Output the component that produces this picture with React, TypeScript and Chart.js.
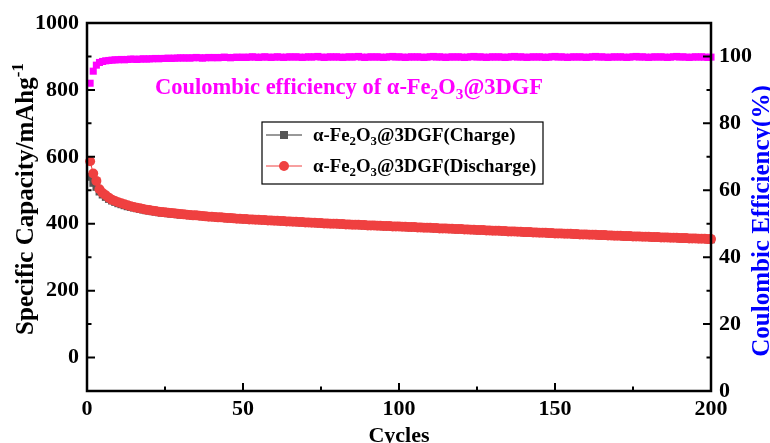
import React, { useEffect, useRef } from "react";
import { Chart, registerables } from "chart.js";
Chart.register(...registerables);

const cycles: number[] = Array.from({ length: 200 }, (_, i) => i + 1);

const dischargeCapacity: number[] = [
  587, 550, 528, 503, 492, 485, 478, 472, 468, 464,
  461, 458, 455, 452, 450, 448, 446, 444, 442, 441,
  439, 438, 436, 435, 434, 433, 432, 431, 430, 429,
  428, 427, 426, 425, 425, 424, 423, 422, 421, 421,
  420, 419, 419, 418, 417, 417, 416, 415, 415, 414,
  414, 413, 413, 412, 412, 411, 411, 410, 410, 409,
  409, 408, 408, 407, 407, 406, 406, 405, 405, 404,
  404, 403, 403, 402, 402, 401, 401, 400, 400, 400,
  399, 399, 398, 398, 397, 397, 397, 396, 396, 395,
  395, 395, 394, 394, 393, 393, 393, 392, 392, 392,
  391, 391, 390, 390, 390, 389, 389, 388, 388, 388,
  387, 387, 386, 386, 386, 385, 385, 384, 384, 384,
  383, 383, 382, 382, 381, 381, 381, 380, 380, 379,
  379, 379, 378, 378, 377, 377, 377, 376, 376, 375,
  375, 375, 374, 374, 373, 373, 373, 372, 372, 371,
  371, 371, 370, 370, 370, 369, 369, 368, 368, 368,
  367, 367, 367, 366, 366, 366, 365, 365, 364, 364,
  364, 363, 363, 363, 362, 362, 362, 361, 361, 361,
  360, 360, 360, 359, 359, 359, 358, 358, 358, 357,
  357, 357, 356, 356, 356, 355, 355, 355, 354, 354,
];

const chargeCapacity: number[] = [
  540, 522, 510, 496, 487, 480, 474, 469, 465, 461,
  458, 455, 452, 450, 448, 446, 444, 442, 440, 439,
  437, 436, 434, 433, 432, 431, 430, 429, 428, 427,
  427, 426, 425, 424, 424, 423, 422, 421, 420, 420,
  419, 418, 418, 417, 416, 416, 415, 414, 414, 413,
  413, 412, 412, 411, 411, 410, 410, 409, 409, 408,
  408, 407, 407, 406, 406, 405, 405, 404, 404, 403,
  403, 402, 402, 401, 401, 400, 400, 399, 399, 399,
  398, 398, 397, 397, 396, 396, 396, 395, 395, 394,
  394, 394, 393, 393, 392, 392, 392, 391, 391, 391,
  390, 390, 389, 389, 389, 388, 388, 387, 387, 387,
  386, 386, 385, 385, 385, 384, 384, 383, 383, 383,
  382, 382, 381, 381, 380, 380, 380, 379, 379, 378,
  378, 378, 377, 377, 376, 376, 376, 375, 375, 374,
  374, 374, 373, 373, 372, 372, 372, 371, 371, 370,
  370, 370, 369, 369, 369, 368, 368, 367, 367, 367,
  366, 366, 366, 365, 365, 365, 364, 364, 363, 363,
  363, 362, 362, 362, 361, 361, 361, 360, 360, 360,
  359, 359, 359, 358, 358, 358, 357, 357, 357, 356,
  356, 356, 355, 355, 355, 354, 354, 354, 353, 353,
];

const coulombicEfficiency: number[] = [
  92.0, 95.6, 97.4, 98.2, 98.5, 98.7, 98.8, 98.9, 99.0, 99.0,
  99.1, 99.0, 99.1, 99.2, 99.2, 99.1, 99.2, 99.3, 99.2, 99.3,
  99.3, 99.4, 99.3, 99.4, 99.4, 99.5, 99.4, 99.5, 99.5, 99.6,
  99.5, 99.6, 99.5, 99.6, 99.7, 99.6, 99.5, 99.6, 99.7, 99.6,
  99.7, 99.6, 99.7, 99.8, 99.7, 99.6, 99.7, 99.8, 99.7, 99.8,
  99.7, 99.8, 99.9, 99.8, 99.7, 99.8, 99.9, 99.8, 99.7, 99.8,
  99.9, 99.8, 99.7, 99.8, 99.9, 99.8, 99.9, 99.8, 99.7, 99.8,
  99.9, 99.8, 99.9, 100.0, 99.8, 99.7, 99.8, 99.9, 99.8, 99.9,
  99.8, 99.7, 99.8, 99.9, 99.8, 99.9, 100.0, 99.8, 99.7, 99.8,
  99.9, 99.8, 99.9, 99.8, 99.7, 99.8, 99.9, 100.0, 99.8, 99.9,
  99.8, 99.7, 99.8, 99.9, 99.8, 99.9, 99.8, 99.7, 99.8, 99.9,
  100.0, 99.8, 99.9, 99.8, 99.7, 99.8, 99.9, 99.8, 99.9, 99.8,
  99.7, 99.8, 99.9, 100.0, 99.8, 99.9, 99.8, 99.7, 99.8, 99.9,
  99.8, 99.9, 99.8, 99.7, 99.8, 99.9, 100.0, 99.8, 99.9, 99.8,
  99.7, 99.8, 99.9, 99.8, 99.9, 99.8, 99.7, 99.8, 99.9, 100.0,
  99.8, 99.9, 99.8, 99.7, 99.8, 99.9, 99.8, 99.9, 99.8, 99.7,
  99.8, 99.9, 100.0, 99.8, 99.9, 99.8, 99.7, 99.8, 99.9, 99.8,
  99.9, 99.8, 99.7, 99.8, 99.9, 100.0, 99.8, 99.9, 99.8, 99.7,
  99.8, 99.9, 99.8, 99.9, 99.8, 99.7, 99.8, 99.9, 100.0, 99.8,
  99.9, 99.8, 99.7, 99.8, 99.9, 99.8, 99.9, 99.8, 99.7, 99.8,
];

const xTicks: number[] = [0, 50, 100, 150, 200];
const xMinorTicks: number[] = [25, 75, 125, 175];
const yTicks: number[] = [0, 200, 400, 600, 800, 1000];
const yMinorTicks: number[] = [-100, 100, 300, 500, 700, 900];
const y1Ticks: number[] = [0, 20, 40, 60, 80, 100];
const y1MinorTicks: number[] = [10, 30, 50, 70, 90];

const FONT = "'Liberation Serif', 'Times New Roman', serif";
const RED = "#ef4040";
const GRAY = "#555555";
const MAGENTA = "#ff00ff";

type Part = { t: string; sub?: boolean; sup?: boolean };

function richWidth(ctx: CanvasRenderingContext2D, parts: Part[], size: number) {
  let w = 0;
  for (const p of parts) {
    const s = p.sub || p.sup ? size * 0.68 : size;
    ctx.font = `bold ${s}px ${FONT}`;
    w += ctx.measureText(p.t).width;
  }
  return w;
}

function drawRich(ctx: CanvasRenderingContext2D, parts: Part[], x: number, y: number, size: number) {
  let cx = x;
  ctx.textBaseline = "alphabetic";
  ctx.textAlign = "left";
  for (const p of parts) {
    const s = p.sub || p.sup ? size * 0.68 : size;
    ctx.font = `bold ${s}px ${FONT}`;
    const dy = p.sub ? size * 0.22 : p.sup ? -size * 0.42 : 0;
    ctx.fillText(p.t, cx, y + dy);
    cx += ctx.measureText(p.t).width;
  }
  return cx - x;
}

const fe2o3 = (suffix: string): Part[] => [
  { t: "α-Fe" },
  { t: "2", sub: true },
  { t: "O" },
  { t: "3", sub: true },
  { t: suffix },
];

const decorPlugin = {
  id: "decor",
  afterDraw(chart: any) {
    const ctx: CanvasRenderingContext2D = chart.ctx;
    const { left, right, top, bottom } = chart.chartArea;
    const sx = chart.scales.x;
    const sy = chart.scales.y;
    const sy1 = chart.scales.y1;
    ctx.save();
    ctx.strokeStyle = "#000";
    ctx.lineWidth = 2.5;
    ctx.strokeRect(left, top, right - left, bottom - top);
    ctx.lineWidth = 2;
    const major = 8;
    const minor = 4.5;
    ctx.beginPath();
    for (const v of xTicks) {
      const px = sx.getPixelForValue(v);
      ctx.moveTo(px, bottom);
      ctx.lineTo(px, bottom - major);
    }
    for (const v of xMinorTicks) {
      const px = sx.getPixelForValue(v);
      ctx.moveTo(px, bottom);
      ctx.lineTo(px, bottom - minor);
    }
    for (const v of yTicks) {
      const py = sy.getPixelForValue(v);
      ctx.moveTo(left, py);
      ctx.lineTo(left + major, py);
    }
    for (const v of yMinorTicks) {
      const py = sy.getPixelForValue(v);
      ctx.moveTo(left, py);
      ctx.lineTo(left + minor, py);
    }
    for (const v of y1Ticks) {
      const py = sy1.getPixelForValue(v);
      ctx.moveTo(right, py);
      ctx.lineTo(right - major, py);
    }
    for (const v of y1MinorTicks) {
      const py = sy1.getPixelForValue(v);
      ctx.moveTo(right, py);
      ctx.lineTo(right - minor, py);
    }
    ctx.stroke();

    // Left axis title
    ctx.fillStyle = "#000";
    const lt: Part[] = [{ t: "Specific Capacity/mAhg" }, { t: "-1", sup: true }];
    const ltw = richWidth(ctx, lt, 25);
    ctx.save();
    ctx.translate(33, 199);
    ctx.rotate(-Math.PI / 2);
    drawRich(ctx, lt, -ltw / 2, 0, 25);
    ctx.restore();

    // Right axis title
    ctx.fillStyle = "#0000ff";
    ctx.font = `bold 25px ${FONT}`;
    ctx.save();
    ctx.translate(769, 221);
    ctx.rotate(-Math.PI / 2);
    ctx.textAlign = "center";
    ctx.textBaseline = "alphabetic";
    ctx.fillText("Coulombic Efficiency(%)", 0, 0);
    ctx.restore();

    // X title
    ctx.fillStyle = "#000";
    ctx.font = `bold 22px ${FONT}`;
    ctx.textAlign = "center";
    ctx.textBaseline = "alphabetic";
    ctx.fillText("Cycles", 399, 442);

    // Annotation
    ctx.fillStyle = MAGENTA;
    drawRich(ctx, [{ t: "Coulombic efficiency of " }, ...fe2o3("@3DGF")], 155, 94, 22.5);

    // Legend
    const lx = 262, ly = 122, lw = 281, lh = 62;
    ctx.fillStyle = "#fff";
    ctx.fillRect(lx, ly, lw, lh);
    ctx.strokeStyle = "#000";
    ctx.lineWidth = 1.2;
    ctx.strokeRect(lx, ly, lw, lh);
    const rows = [
      { y: 135, color: "#333", mcolor: GRAY, square: true, label: "(Charge)" },
      { y: 166, color: RED, mcolor: RED, square: false, label: "(Discharge)" },
    ];
    for (const r of rows) {
      ctx.strokeStyle = r.color;
      ctx.lineWidth = 1;
      ctx.beginPath();
      ctx.moveTo(266, r.y);
      ctx.lineTo(302, r.y);
      ctx.stroke();
      ctx.fillStyle = r.mcolor;
      if (r.square) {
        ctx.fillRect(280, r.y - 4, 8, 8);
      } else {
        ctx.beginPath();
        ctx.arc(284, r.y, 5, 0, Math.PI * 2);
        ctx.fill();
      }
      ctx.fillStyle = "#000";
      drawRich(ctx, fe2o3("@3DGF" + r.label), 313, r.y + 6, 18.8);
    }
    ctx.restore();
  },
};

const tickFont = { family: FONT, size: 22, weight: "bold" };

export default function App() {
  const ref = useRef<HTMLCanvasElement | null>(null);
  useEffect(() => {
    document.body.style.margin = "0";
    const canvas = ref.current!;
    const chart = new Chart(canvas, {
      type: "line",
      data: {
        labels: cycles,
        datasets: [
          {
            label: "Discharge",
            data: cycles.map((c, i) => ({ x: c, y: dischargeCapacity[i] })),
            borderColor: RED,
            backgroundColor: RED,
            borderWidth: 1,
            pointStyle: "circle",
            pointRadius: 5,
            pointBorderWidth: 0,
            yAxisID: "y",
            order: 0,
            clip: false,
          },
          {
            label: "Charge",
            data: cycles.map((c, i) => ({ x: c, y: chargeCapacity[i] })),
            borderColor: "#333",
            backgroundColor: GRAY,
            borderWidth: 1,
            pointStyle: "rect",
            pointRadius: 5.5,
            pointBorderWidth: 0,
            yAxisID: "y",
            order: 1,
            clip: false,
          },
          {
            label: "CE",
            data: cycles.map((c, i) => ({ x: c, y: coulombicEfficiency[i] })),
            borderColor: MAGENTA,
            backgroundColor: MAGENTA,
            showLine: false,
            pointStyle: "rect",
            pointRadius: 5,
            pointBorderWidth: 0,
            yAxisID: "y1",
            order: 2,
            clip: false,
          },
        ],
      } as any,
      options: {
        animation: false,
        responsive: false,
        maintainAspectRatio: false,
        layout: { padding: { top: 23, left: 0, right: 0, bottom: 0 } },
        plugins: { legend: { display: false }, tooltip: { enabled: false } },
        scales: {
          x: {
            type: "linear",
            min: 0,
            max: 200,
            grid: { display: false, drawTicks: false },
            border: { display: false },
            afterBuildTicks: (s: any) => { s.ticks = xTicks.map((v) => ({ value: v })); },
            afterFit: (s: any) => { s.height = 52; },
            ticks: { color: "#000", font: tickFont, padding: 5, maxRotation: 0, callback: (v: any) => String(v) },
          },
          y: {
            type: "linear",
            position: "left",
            min: -100,
            max: 1000,
            grid: { display: false, drawTicks: false },
            border: { display: false },
            afterBuildTicks: (s: any) => { s.ticks = yTicks.map((v) => ({ value: v })); },
            afterFit: (s: any) => { s.width = 87; },
            ticks: { color: "#000", font: tickFont, padding: 8, callback: (v: any) => String(v) },
          },
          y1: {
            type: "linear",
            position: "right",
            min: 0,
            max: 110,
            grid: { display: false, drawTicks: false },
            border: { display: false },
            afterBuildTicks: (s: any) => { s.ticks = y1Ticks.map((v) => ({ value: v })); },
            afterFit: (s: any) => { s.width = 59; },
            ticks: { color: "#000", font: tickFont, padding: 8, callback: (v: any) => String(v) },
          },
        },
      } as any,
      plugins: [decorPlugin],
    });
    return () => chart.destroy();
  }, []);
  return (
    <div style={{ width: 770, height: 443, position: "relative" }}>
      <canvas ref={ref} width={770} height={443} style={{ display: "block", width: 770, height: 443 }} />
    </div>
  );
}
